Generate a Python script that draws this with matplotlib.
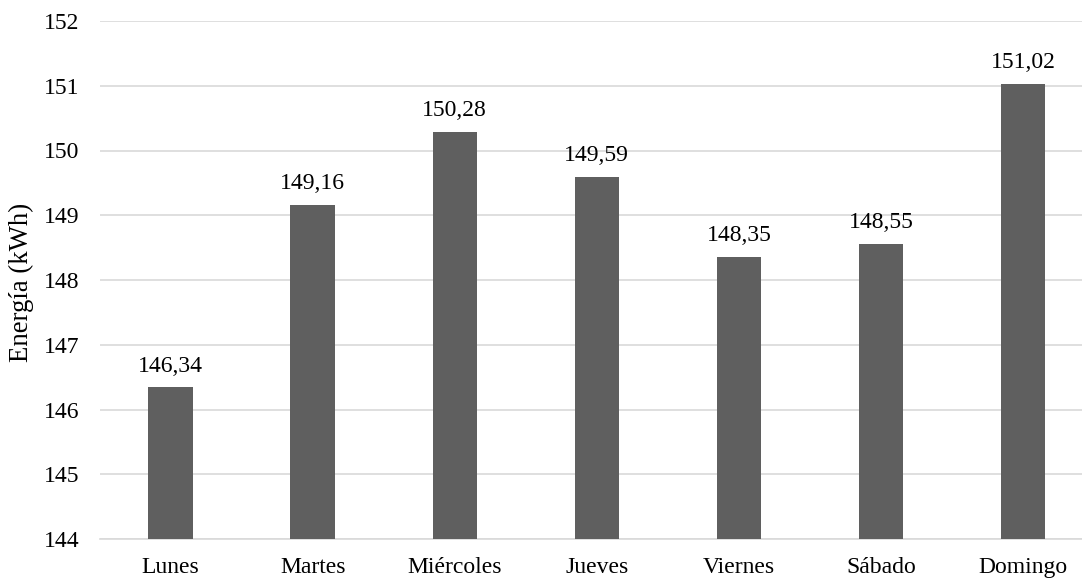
import matplotlib.pyplot as plt

dias = ['Lunes', 'Martes', 'Miércoles', 'Jueves', 'Viernes', 'Sábado', 'Domingo']
energia = [146.34, 149.16, 150.28, 149.59, 148.35, 148.55, 151.02]
y_ticks = [144, 145, 146, 147, 148, 149, 150, 151, 152]

plt.rcParams['font.family'] = ['Liberation Serif', 'DejaVu Serif']

fig = plt.figure(figsize=(10.82, 5.78), dpi=100)
# plot area: x 99.5..1082 px, y 21..539 px
ax = fig.add_axes([99.5 / 1082, 39 / 578, (1082 - 99.5) / 1082, 518 / 578])

x = list(range(len(dias)))
ax.bar(x, energia, width=0.313, color='#5f5f5f', zorder=3)

for xi, v in zip(x, energia):
    ax.annotate(f'{v:.2f}'.replace('.', ','), (xi, v), xytext=(0, 11.5),
                textcoords='offset points', ha='center', va='baseline',
                fontsize=17, color='#000000')

ax.set_ylim(144, 152)
ax.set_yticks(y_ticks)
ax.set_xlim(-0.5, -0.5 + (1082 - 99.5) / 142.1)
ax.set_xticks(x)
ax.set_xticklabels(dias)
ax.tick_params(axis='both', length=0, labelsize=17, colors='#000000')
ax.tick_params(axis='y', pad=14.4)
ax.tick_params(axis='x', pad=13)
ax.grid(axis='y', color='#d9d9d9', linewidth=1.2, zorder=0)
for s in ['top', 'right', 'left']:
    ax.spines[s].set_visible(False)
ax.spines['bottom'].set_color('#d9d9d9')
ax.spines['bottom'].set_linewidth(1.2)
ax.set_ylabel('Energía (kWh)', fontsize=19.3)
ax.yaxis.set_label_coords(-0.067, 0.495)

fig.savefig('out.png', dpi=100)
